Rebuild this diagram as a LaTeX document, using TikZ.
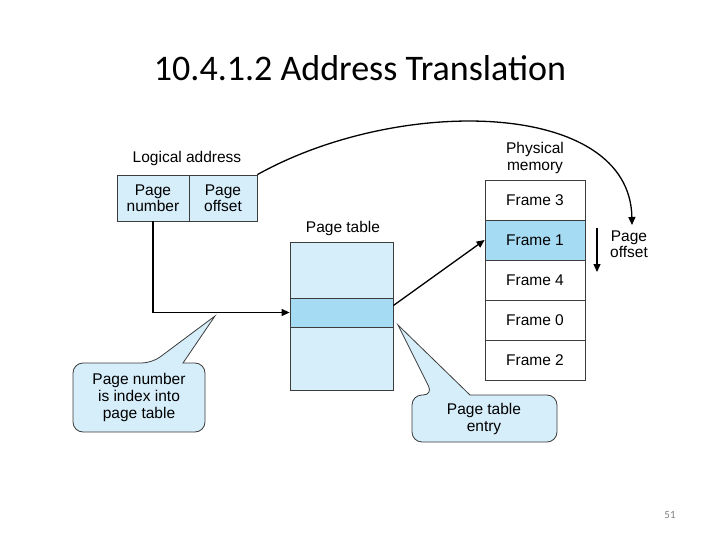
\documentclass[tikz,border=0pt]{standalone}
\usepackage{fontspec}
\setmainfont{Liberation Sans}
\newfontfamily\titlefont{Carlito}
\usepackage{xcolor}
\usetikzlibrary{arrows.meta}
\definecolor{paleblue}{RGB}{214,237,250}
\definecolor{midblue}{RGB}{166,219,244}
\definecolor{edgegray}{RGB}{60,60,60}

\begin{document}
\begin{tikzpicture}[
  x=1pt, y=-1pt,
  box/.style={draw=edgegray,line width=0.8pt,inner sep=0pt,align=center,font=\fontsize{15.5}{16.5}\selectfont},  cell/.style={box,fill=paleblue},  hcell/.style={box,fill=midblue},  frame/.style={box,fill=white,minimum width=100,minimum height=40},  lbl/.style={align=center,font=\fontsize{15.5}{16.5}\selectfont},  arr/.style={line width=1.3pt,-{Triangle[length=8pt,width=7pt]}},  callout/.style={draw=edgegray,line width=0.8pt,fill=paleblue}
]
  \useasboundingbox (0,0) rectangle (720,540);
  \node[font=\titlefont\fontsize{36}{40}\selectfont] (title) at (360,68) {10.4.1.2 Address Translation};
  \node[font=\titlefont\fontsize{11}{12}\selectfont,text=gray] (pg) at (670,515) {51};
  % logical address
  \node[lbl] (lalbl) at (187,158) {Logical address};
  \node[cell,minimum width=72,minimum height=46] (pn) at (153,198) {Page\\number};
  \node[cell,minimum width=68,minimum height=46] (po) at (223,198) {Page\\offset};
  % page table
  \node[lbl] (ptlbl) at (343,228) {Page table};
  \node[cell,minimum width=103,minimum height=56] (ptop) at (341.5,270) {};
  \node[hcell,minimum width=103,minimum height=29] (prow) at (341.5,312.5) {};
  \node[cell,minimum width=103,minimum height=63] (pbot) at (341.5,358.5) {};
  % physical memory
  \node[lbl] (pmlbl) at (535,158) {Physical\\memory};
  \node[frame] (f3) at (535,200) {Frame 3};
  \node[frame,fill=midblue] (f1) at (535,240) {Frame 1};
  \node[frame] (f4) at (535,280) {Frame 4};
  \node[frame] (f0) at (535,320) {Frame 0};
  \node[frame] (f2) at (535,360) {Frame 2};
  \node[lbl] (offlbl) at (629,244) {Page\\offset};
  \coordinate (ot) at (597,228);
  \coordinate (ob) at (597,272);
  \coordinate (oend) at (632,225);
  % connectors
  \draw[arr] (pn.south) |- (prow.west);
  \draw[arr] ([yshift=7pt]prow.east) -- (f1.west);
  \draw[arr] (po.north east) .. controls (400,95) and (630,100) .. (oend);
  \draw[arr] (ot) -- (ob);
  % callouts
  \draw[callout] (152,363) -- (215,316) -- (183,363) [rounded corners=10] -- (205,363) -- (205,432) -- (73,432) -- (73,363) -- cycle;
  \node[lbl,font=\fontsize{15.5}{17}\selectfont] (c1) at (139,397) {Page number\\is index into\\page table};
  \draw[callout] (433,395) -- (398,325) -- (470,395) [rounded corners=10] -- (557,395) -- (557,442) -- (412,442) -- (412,395) -- cycle;
  \node[lbl] (c2) at (484,419) {Page table\\entry};
\end{tikzpicture}
\end{document}
